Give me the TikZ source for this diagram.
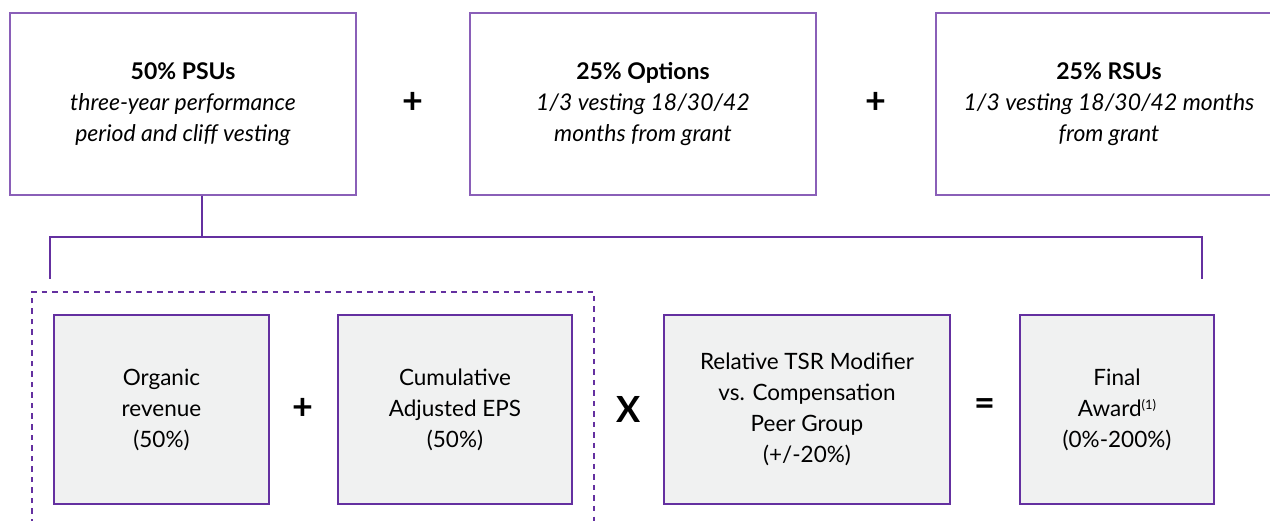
\documentclass[tikz,border=0pt]{standalone}
\usepackage{fontspec}
\setmainfont{Lato}
\definecolor{purp}{HTML}{6430A0}
\definecolor{lpurp}{HTML}{8A5FB8}
\definecolor{boxgray}{HTML}{F0F1F1}
\begin{document}
\begin{tikzpicture}[x=1pt,y=-1pt,
  topbox/.style={draw=lpurp,line width=1.3pt,minimum width=346pt,minimum height=182pt,align=center,inner sep=0pt,font=\fontsize{23}{31}\selectfont},
  botbox/.style={draw=purp,fill=boxgray,line width=2.2pt,align=center,inner sep=0pt,minimum height=189pt,font=\fontsize{22.5}{31}\selectfont},
  op/.style={font=\fontsize{36}{36}\selectfont\bfseries,inner sep=0pt},
  link/.style={draw=purp,line width=2.5pt},
  grpbox/.style={draw=purp,line width=2pt,dash pattern=on 5.5pt off 5pt}]
\useasboundingbox (0,0) rectangle (1270,521);
% top row
\node[topbox] (psu) at (183,104) {\textbf{50\% PSUs}\\\textit{three-year performance}\\\textit{period and cliff vesting}};
\node[topbox] (opt) at (643,104) {\textbf{25\% Options}\\\textit{1/3 vesting 18/30/42}\\\textit{months from grant}};
\node[topbox] (rsu) at (1109,104) {\textbf{25\% RSUs}\\\textit{1/3 vesting 18/30/42 months}\\\textit{from grant}};
\node[op] (plus1) at (413,103) {+};
\node[op] (plus2) at (876,103) {+};
% bracket
\coordinate (bj) at (202,237);
\coordinate (bl) at (50,279);
\coordinate (br) at (1202,279);
\draw[link] (psu.south -| bj) -- (bj);
\draw[link] (bl) |- (bj) -| (br);
% dashed group
\draw[grpbox] (32,545) -- (32,292) -- (594,292) -- (594,545);
% bottom row
\node[botbox,minimum width=215pt] (org) at (161.5,409.5) {Organic\\revenue\\(50\%)};
\node[botbox,minimum width=234pt] (eps) at (455,409.5) {Cumulative\\Adjusted EPS\\(50\%)};
\node[botbox,minimum width=286pt] (tsr) at (807,409.5) {Relative TSR Modifier\\vs. Compensation\\Peer Group\\(+/-20\%)};
\node[botbox,minimum width=194pt] (fin) at (1117,409.5) {Final\\Award\raisebox{0.6ex}{\fontsize{13}{13}\selectfont(1)}\\(0\%-200\%)};
\node[op] (plus3) at (303,409) {+};
\node[op] (times) at (629,409) {X};
\node[op] (eq) at (985,407) {=};
\end{tikzpicture}
\end{document}
